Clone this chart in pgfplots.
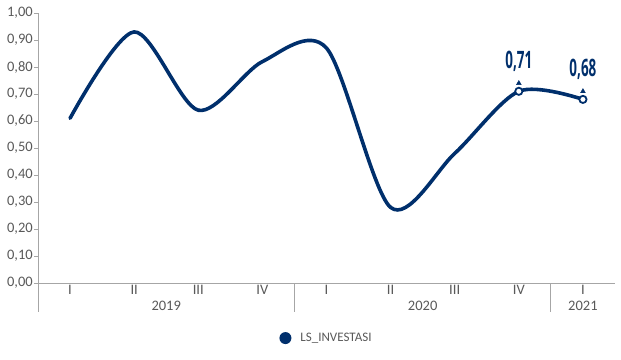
\documentclass[border=0pt]{standalone}
\usepackage{pgfplots}
\pgfplotsset{compat=1.18}
\usepackage{fontspec}
\setmainfont{Carlito}
\newfontfamily\condfont[FakeStretch=0.56]{Open Sans}
\definecolor{navy}{HTML}{002F6C}
\definecolor{txtgray}{HTML}{595959}
\definecolor{axgray}{HTML}{A6A6A6}
\begin{document}
\begin{tikzpicture}
\useasboundingbox (-38bp,-77bp) rectangle (583bp,283bp);
\begin{axis}[
  at={(0,0)}, anchor=south west,
  scale only axis, width=577bp, height=270bp,
  xmin=0, xmax=9, ymin=0, ymax=1,
  clip=false,
  axis x line=bottom, axis y line=left,
  axis line style={-, draw=axgray, line width=0.8bp},
  xtick={0.5,1.5,2.5,3.5,4.5,5.5,6.5,7.5,8.5},
  xticklabels={I,II,III,IV,I,II,III,IV,I},
  x tick style={draw=none},
  xticklabel style={anchor=center, yshift=-3bp},
  extra x ticks={1,2,3,5,6,7},
  extra x tick labels={},
  extra x tick style={tick style={draw=axgray, line width=0.8bp}, tick align=outside, major tick length=5bp},
  ytick={0,0.1,...,1.0},
  y tick style={draw=axgray, line width=0.8bp},
  tick align=outside, major tick length=4bp,
  yticklabel style={anchor=east, inner sep=0pt, xshift=-1bp},
  /pgf/number format/.cd, fixed, fixed zerofill, precision=2, use comma, assume math mode=true,
  /pgfplots/.cd,
  tick label style={font=\fontsize{14.5bp}{16bp}\selectfont, text=txtgray},
  legend style={at={(0.5,-0.204)}, anchor=center, draw=none, fill=none,
    font=\fontsize{13bp}{15bp}\selectfont, text=txtgray,
    legend cell align=left},
  legend image code/.code={\fill[navy, draw=none] (0,0) circle (6bp); \path[draw=none, fill=none] (-6bp,0) rectangle (13bp,0.1bp);},
]
\addplot[navy, line width=3.6bp, smooth, tension=0.5, line cap=round] coordinates {
  (0.5,0.61) (1.5,0.93) (2.5,0.64) (3.5,0.82) (4.5,0.87)
  (5.5,0.28) (6.5,0.48) (7.5,0.71) (8.5,0.68)};
\addlegendentry{LS\_INVESTASI}
\addplot[only marks, mark=*, mark size=3.6bp, mark options={fill=white, draw=navy, line width=1.8bp}, forget plot] coordinates {(7.5,0.71) (8.5,0.68)};
\addplot[only marks, mark=triangle*, mark size=2.8bp, mark options={fill=navy, draw=navy, yshift=8bp}, forget plot,
  nodes near coords={\condfont\bfseries\pgfmathprintnumber[fixed,fixed zerofill,precision=2,use comma]{\pgfplotspointmeta}},
  every node near coord/.append style={font=\fontsize{24bp}{26bp}\selectfont, text=navy, anchor=center, yshift=22bp},
  point meta=explicit] coordinates {(7.5,0.71) [0.71] (8.5,0.68) [0.68]};
\draw[axgray, line width=0.8bp] (axis cs:0,0) -- ++(0,-29bp);
\draw[axgray, line width=0.8bp] (axis cs:4,0) -- ++(0,-29bp);
\draw[axgray, line width=0.8bp] (axis cs:8,0) -- ++(0,-29bp);
\node[font=\fontsize{14.5bp}{16bp}\selectfont, text=txtgray] at ([yshift=-23bp]axis cs:2,0) {2019};
\node[font=\fontsize{14.5bp}{16bp}\selectfont, text=txtgray] at ([yshift=-23bp]axis cs:6,0) {2020};
\node[font=\fontsize{14.5bp}{16bp}\selectfont, text=txtgray] at ([yshift=-23bp]axis cs:8.5,0) {2021};
\end{axis}
\end{tikzpicture}
\end{document}
